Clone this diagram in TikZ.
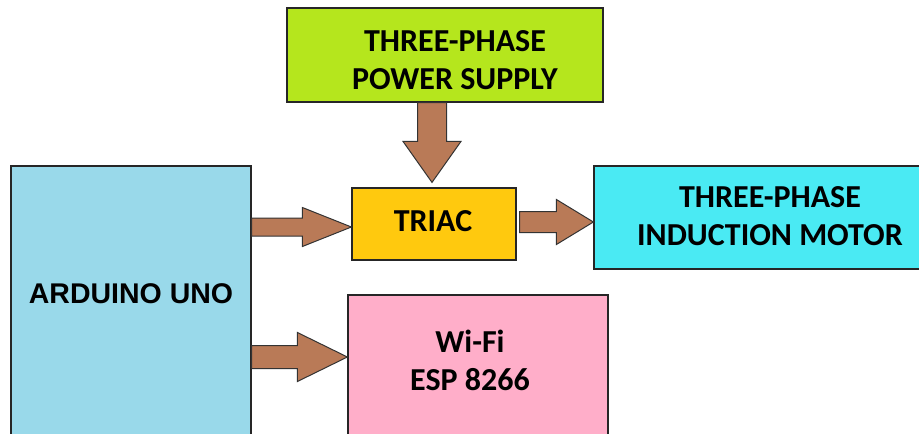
\documentclass[tikz,border=0pt]{standalone}
\usepackage{fontspec}
\setmainfont{Carlito}
\newfontfamily\arduinofont{Liberation Sans}
\usetikzlibrary{calc}
\definecolor{limegreen}{RGB}{181,230,29}
\definecolor{lightturq}{RGB}{153,217,234}
\definecolor{gold}{RGB}{255,201,14}
\definecolor{motorcyan}{RGB}{74,234,243}
\definecolor{rose}{RGB}{255,174,201}
\definecolor{arrowbrown}{RGB}{185,122,87}
\tikzset{
  box/.style={draw=black!85, line width=1.2pt, inner sep=0pt},
  lbl/.style={font=\bfseries\fontsize{32}{38}\selectfont, align=center, inner sep=0pt},
  barrow/.style={fill=arrowbrown, draw=black!80, line width=1pt, line join=miter},
}
% block arrow: #1 start, #2 tip, #3 half shaft, #4 half head, #5 head length
\newcommand{\bigarrow}[5]{%
  \coordinate (h) at ($(#2)!#5!(#1)$);
  \filldraw[barrow] ($(#1)!#3!90:(#2)$) -- ($(h)!#3!90:(#2)$) -- ($(h)!#4!90:(#2)$)
    -- (#2) -- ($(h)!#4!-90:(#2)$) -- ($(h)!#3!-90:(#2)$) -- ($(#1)!#3!-90:(#2)$) -- cycle;
}
\begin{document}
\begin{tikzpicture}[x=1pt, y=-1pt]
  \useasboundingbox (0,0) rectangle (919,434);
  \clip (0,0) rectangle (919,434);
  % blocks
  \node[box, fill=limegreen, minimum width=316pt, minimum height=94pt] (pwr) at (445,55) {};
  \node[box, fill=lightturq, minimum width=240pt, minimum height=280pt] (ard) at (131,306) {};
  \node[box, fill=gold, minimum width=164pt, minimum height=72pt] (tri) at (434,224) {};
  \node[box, fill=motorcyan, minimum width=340pt, minimum height=103pt] (mot) at (764,217.5) {};
  \node[box, fill=rose, minimum width=260pt, minimum height=150pt] (wifi) at (478,370) {};
  % texts
  \node[lbl] (pwrtext) at ($(pwr.center)+(10,5)$) {THREE-PHASE\\POWER SUPPLY};
  \node[lbl, font=\arduinofont\bfseries\fontsize{28.5}{34}\selectfont] (ardtext) at (131,294) {ARDUINO UNO};
  \node[lbl] (tritext) at ($(tri.center)+(-1,-3)$) {TRIAC};
  \node[lbl] (mottext) at (770,216) {THREE-PHASE\\INDUCTION MOTOR};
  \node[lbl] (wifitext) at (470,360) {Wi-Fi\\ESP 8266};
  % arrows
  \coordinate (d2) at ($(tri.north)+(-2,-5)$);
  \coordinate (d1) at (d2 |- pwr.south);
  \bigarrow{d1}{d2}{14.5pt}{29pt}{41pt}
  \coordinate (a2) at ($(tri.west)+(0,3)$);
  \coordinate (a1) at (ard.east |- a2);
  \bigarrow{a1}{a2}{9pt}{19.5pt}{49pt}
  \coordinate (m1) at ($(tri.east)+(3,-2)$);
  \coordinate (m2) at (mot.west |- m1);
  \bigarrow{m1}{m2}{10.5pt}{22.5pt}{37pt}
  \coordinate (w2) at (wifi.west |- 0,357);
  \coordinate (w1) at (ard.east |- w2);
  \bigarrow{w1}{w2}{11.5pt}{24.5pt}{50pt}
\end{tikzpicture}
\end{document}
